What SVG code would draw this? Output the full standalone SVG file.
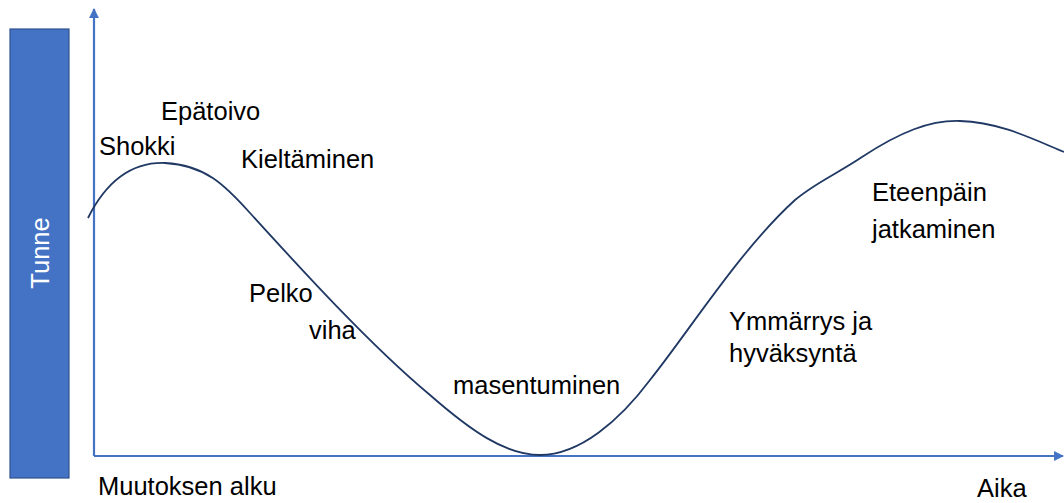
<svg xmlns="http://www.w3.org/2000/svg" width="1064" height="503" viewBox="0 0 1064 503">
<defs>
<marker id="arr" viewBox="0 0 10 10" refX="9" refY="5" markerWidth="4.5" markerHeight="4.5" markerUnits="strokeWidth" orient="auto">
<path d="M0,0 L10,5 L0,10 z" fill="#4472C4"/>
</marker>
<style>
.t{font-family:"Liberation Sans",Arial,sans-serif;font-size:25.5px;fill:#000}
.ax{stroke:#4472C4;stroke-width:2.2;fill:none}
</style>
</defs>
<rect width="1064" height="503" fill="#fff"/>
<g id="tunne">
<rect x="10" y="29" width="59" height="449" fill="#4472C4" stroke="#2F528F" stroke-width="1.2"/>
<text class="t" transform="translate(48.5,253) rotate(-90)" text-anchor="middle" style="fill:#fff">Tunne</text>
</g>
<g id="connectors">
<path class="ax" d="M94,456 L94,9" marker-end="url(#arr)"/>
<path class="ax" d="M94,456 L1063,456" marker-end="url(#arr)"/>
<path d="M88,218 C108,178 135,162 165,163 C205,165 225,185 250,213 C300,268 370,345 430,395 C470,430 505,455 540,455 C580,455 620,420 650,380 C690,330 740,250 795,200 C815,183 835,175 862,157 C900,132 930,120 960,121 C1000,122 1035,140 1064,152" fill="none" stroke="#203864" stroke-width="1.8"/>
</g>
<g id="labels">
<text class="t" x="161" y="120">Epätoivo</text>
<text class="t" x="99" y="155">Shokki</text>
<text class="t" x="241" y="168">Kieltäminen</text>
<text class="t" x="249" y="302">Pelko</text>
<text class="t" x="309" y="339">viha</text>
<text class="t" x="453" y="394">masentuminen</text>
<text class="t" x="729" y="330">Ymmärrys ja</text>
<text class="t" x="729" y="362">hyväksyntä</text>
<text class="t" x="872" y="201">Eteenpäin</text>
<text class="t" x="872" y="238">jatkaminen</text>
<text class="t" x="98" y="495">Muutoksen alku</text>
<text class="t" x="977" y="497">Aika</text>
</g>
</svg>
